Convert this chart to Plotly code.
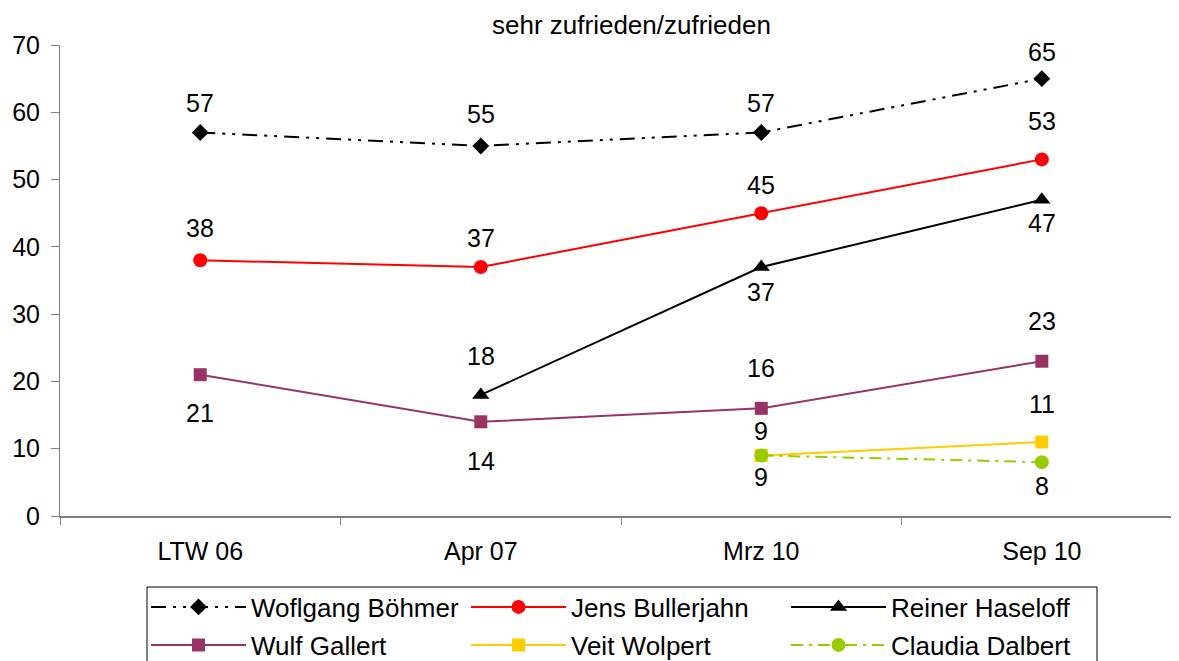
import plotly.graph_objects as go

categories = ["LTW 06", "Apr 07", "Mrz 10", "Sep 10"]
names = ["Woflgang Böhmer", "Jens Bullerjahn", "Reiner Haseloff",
         "Wulf Gallert", "Veit Wolpert", "Claudia Dalbert"]
boehmer = [57, 55, 57, 65]
bullerjahn = [38, 37, 45, 53]
haseloff = [None, 18, 37, 47]
gallert = [21, 14, 16, 23]
wolpert = [None, None, 9, 11]
dalbert = [None, None, 9, 8]
title_text = "sehr zufrieden/zufrieden"
y_ticks = [0, 10, 20, 30, 40, 50, 60, 70]

series = [boehmer, bullerjahn, haseloff, gallert, wolpert, dalbert]

# styles
colors = ["#000000", "#FF0000", "#000000", "#993366", "#FFCC00", "#99CC00"]
symbols = ["diamond", "circle", "triangle-up", "square", "square", "circle"]
msizes = [13, 14, 15, 13, 13, 14]
dashes = ["15px,7px,3px,7px,3px,7px", "solid", "solid", "solid", "solid", "12px,6px,3px,6px"]
legends = ["legend", "legend", "legend", "legend2", "legend2", "legend2"]
# label placement (pixel shift, negative = below)
label_shift = [
    [29, 32, 29, 27],
    [32, 29, 28, 38],
    [0, 39, -25, -23],
    [-38, -39, 40, 40],
    [0, 0, 24, 38],
    [0, 0, -22, -24],
]

FONT = "Liberation Sans, Arial, sans-serif"
fig = go.Figure()
annotations = []
for i, vals in enumerate(series):
    fig.add_trace(go.Scatter(
        x=categories, y=vals, name=names[i], mode="lines+markers",
        line=dict(color=colors[i], width=2, dash=dashes[i]),
        marker=dict(symbol=symbols[i], size=msizes[i], color=colors[i],
                    line=dict(width=0)),
        legend=legends[i], connectgaps=False,
    ))
    for j, v in enumerate(vals):
        if v is None:
            continue
        annotations.append(dict(
            x=categories[j], y=v, xref="x", yref="y", text=str(v),
            showarrow=False, yshift=label_shift[i][j],
            font=dict(family=FONT, size=25, color="#000000"),
        ))

# page body adds an 8px offset; window-pixel targets are converted below
OFF = 8
WIN_W, WIN_H = 1179, 661
W, H = WIN_W - OFF, WIN_H - OFF
L, R, T, B = 60 - OFF, 0, 45 - OFF, WIN_H - 516
pw, ph = W - L - R, H - T - B

def px_x(p):
    return (p - OFF - L) / pw

def px_y(p):
    return (516 - p) / ph

annotations.append(dict(
    text=title_text, x=px_x(631), y=px_y(25), xref="paper", yref="paper",
    showarrow=False, font=dict(family=FONT, size=26, color="#000000"),
    xanchor="center", yanchor="middle",
))

legend_common = dict(
    orientation="h", xanchor="left", yanchor="middle",
    font=dict(family=FONT, size=26, color="#000000"),
    entrywidth=210, entrywidthmode="pixels",
    bgcolor="rgba(0,0,0,0)", borderwidth=0, itemwidth=95,
    tracegroupgap=0,
)

fig.update_layout(
    width=W, height=H,
    margin=dict(l=L, r=R, t=T, b=B, pad=0, autoexpand=False),
    paper_bgcolor="white", plot_bgcolor="white",
    font=dict(family=FONT, size=25, color="#000000"),
    showlegend=True,
    legend=dict(legend_common, x=px_x(146), y=px_y(607)),
    legend2=dict(legend_common, x=px_x(146), y=px_y(645)),
    annotations=annotations,
    shapes=[dict(type="rect", xref="paper", yref="paper",
                 x0=px_x(147), x1=px_x(1097), y0=px_y(587), y1=px_y(675),
                 line=dict(color="#000000", width=1), fillcolor="rgba(0,0,0,0)")],
    xaxis=dict(
        type="category", categoryorder="array", categoryarray=categories,
        range=[-0.5, 3.489], showgrid=False, zeroline=False,
        showline=True, linecolor="#808080", linewidth=2,
        ticks="outside", tickson="boundaries", ticklen=7, tickcolor="#808080",
        tickwidth=1, ticklabelstandoff=12, automargin=False,
        tickfont=dict(family=FONT, size=25, color="#000000"),
    ),
    yaxis=dict(
        range=[0, 70], tickvals=y_ticks, showgrid=False, zeroline=False,
        showline=True, linecolor="#808080", linewidth=1,
        ticks="outside", ticklen=8, tickcolor="#808080",
        tickfont=dict(family=FONT, size=25, color="#000000"),
        ticklabelstandoff=6, automargin=False,
    ),
)

fig.write_html("out.html")
